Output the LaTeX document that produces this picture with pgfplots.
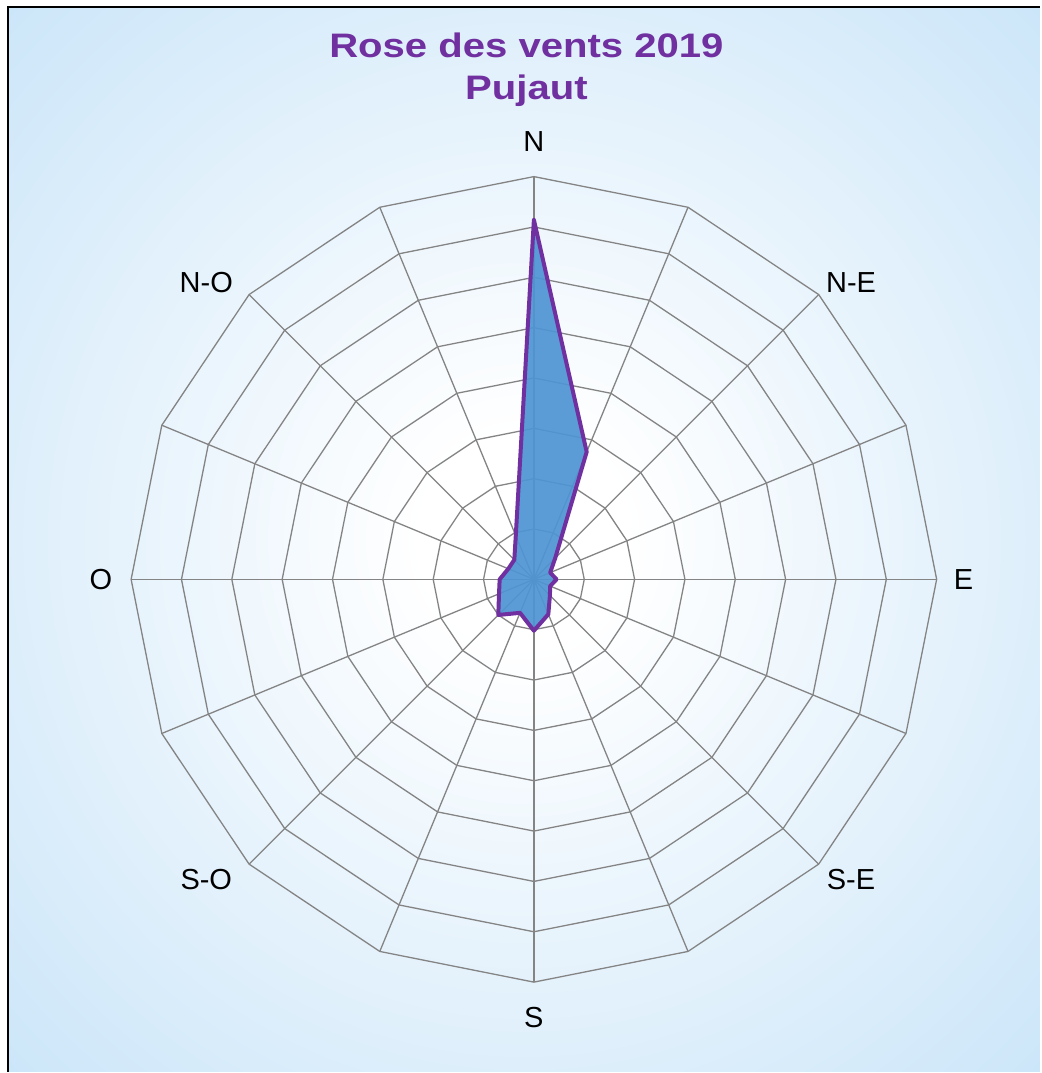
\documentclass[border=0pt]{standalone}
\usepackage{pgfplots}
\pgfplotsset{compat=1.18}
\usepgfplotslibrary{polar}
\usepackage{fontspec}
\setmainfont{Liberation Sans}
\definecolor{bgblue}{RGB}{196,226,248}
\definecolor{titlepurple}{RGB}{112,48,160}
\definecolor{fillblue}{RGB}{78,148,212}
\definecolor{gridgray}{RGB}{132,132,132}
\pgfdeclareradialshading{bgshade}{\pgfpoint{0bp}{0bp}}{color(0bp)=(white); color(5bp)=(white); color(40bp)=(bgblue); color(80bp)=(bgblue)}
\begin{document}
\begin{tikzpicture}[x=0.5bp,y=0.5bp]
\fill[white] (-534.5,580) rectangle (506.5,-493);
\shade[shading=bgshade] (-526.5,573) rectangle (506.5,-493);
\draw[black, line width=1.2bp] (-526.5,-493) -- (-526.5,573) -- (506.5,573);
\begin{axis}[at={(0,0)}, anchor=center, x=25.2bp, y=25.2bp,
  xmin=-8.5, xmax=8.5, ymin=-8.5, ymax=8.5, hide axis, clip=false]
\pgfplotsinvokeforeach{1,2,3,4,5,6,7,8}{
  \addplot[gridgray, line width=0.65bp, no markers, data cs=polar] coordinates {(0,#1)(22.5,#1)(45,#1)(67.5,#1)(90,#1)(112.5,#1)(135,#1)(157.5,#1)(180,#1)(202.5,#1)(225,#1)(247.5,#1)(270,#1)(292.5,#1)(315,#1)(337.5,#1)(360,#1)};
}
\pgfplotsinvokeforeach{0,22.5,45,67.5,90,112.5,135,157.5,180,202.5,225,247.5,270,292.5,315,337.5}{
  \addplot[gridgray, line width=0.65bp, no markers, data cs=polar] coordinates {(#1,0)(#1,8)};
}
\addplot[draw=titlepurple, line width=2bp, fill=fillblue, fill opacity=0.92, line join=round, line cap=round, no markers, data cs=polar] coordinates {
(90,7.14)
(67.5,2.74)
(45,0.6)
(22.5,0.35)
(0,0.45)
(-22.5,0.35)
(-45,0.45)
(-67.5,0.75)
(-90,1.02)
(-112.5,0.72)
(-135,1.0)
(-157.5,0.75)
(180,0.68)
(157.5,0.55)
(135,0.55)
(112.5,0.94)
(90,7.14)
};
\end{axis}
\begin{scope}[every node/.style={font=\fontsize{14.5bp}{17bp}\selectfont, anchor=base}]
\node at (0,428) {N};
\node at (430,-10) {E};
\node at (-433.5,-10) {O};
\node at (0,-449) {S};
\node at (317.5,287) {N-E};
\node at (-328,287) {N-O};
\node at (-328,-310) {S-O};
\node at (317.5,-310) {S-E};
\end{scope}
\node[anchor=base, text=titlepurple, font=\fontsize{17bp}{20bp}\selectfont\bfseries] at (-7.5,522) {\scalebox{1.18}[1]{Rose des vents 2019}};
\node[anchor=base, text=titlepurple, font=\fontsize{17bp}{20bp}\selectfont\bfseries] at (-7.5,480) {\scalebox{1.18}[1]{Pujaut}};
\end{tikzpicture}
\end{document}
